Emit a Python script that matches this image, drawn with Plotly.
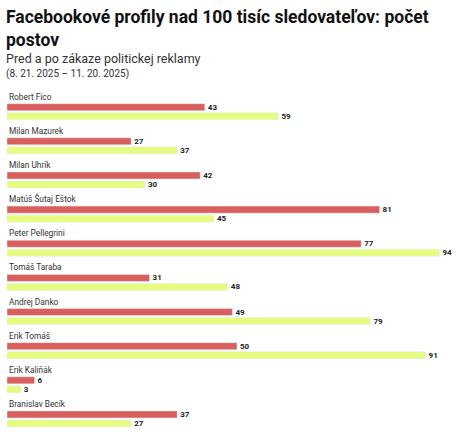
import plotly.graph_objects as go

names = ["Robert Fico", "Milan Mazurek", "Milan Uhrík", "Matúš Šutaj Eštok", "Peter Pellegrini",
         "Tomáš Taraba", "Andrej Danko", "Erik Tomáš", "Erik Kaliňák", "Branislav Becík"]
before = [43, 27, 42, 81, 77, 31, 49, 50, 6, 37]
after = [59, 37, 30, 45, 94, 48, 79, 91, 3, 27]

RED = "#d85f5c"
LIME = "#e6fc80"
FONT = "Roboto, Inter, sans-serif"

fig = go.Figure()
fig.add_trace(go.Bar(y=names, x=before, orientation="h", name="Pred", marker_color=RED,
                     text=before, textposition="outside", cliponaxis=False, constraintext="none",
                     textfont=dict(size=8, color="#222", family=FONT, weight="bold")))
fig.add_trace(go.Bar(y=names, x=after, orientation="h", name="Po", marker_color=LIME,
                     text=after, textposition="outside", cliponaxis=False, constraintext="none",
                     textfont=dict(size=8, color="#222", family=FONT, weight="bold")))

annotations = []
for n in names:
    annotations.append(dict(x=0, y=n, xref="x", yref="y", text=n, showarrow=False,
                            xanchor="left", yanchor="bottom", yshift=8,
                            font=dict(size=8.3, color="#333", family=FONT)))

annotations.append(dict(x=0, y=1.215, xref="paper", yref="paper", xshift=-3,
                        text="<b>Facebookové profily nad 100 tisíc sledovateľov: počet<br>postov</b>",
                        showarrow=False, xanchor="left", yanchor="top", align="left",
                        font=dict(size=17.5, color="#111", family=FONT)))
annotations.append(dict(x=0, y=1.09, xref="paper", yref="paper", xshift=-3,
                        text="Pred a po zákaze politickej reklamy",
                        showarrow=False, xanchor="left", yanchor="top", align="left",
                        font=dict(size=12.5, color="#333", family=FONT)))
annotations.append(dict(x=0, y=1.043, xref="paper", yref="paper", xshift=-3,
                        text="(8. 21. 2025 – 11. 20. 2025)",
                        showarrow=False, xanchor="left", yanchor="top", align="left",
                        font=dict(size=10, color="#333", family=FONT)))

fig.update_layout(
    width=474, height=438,
    margin=dict(l=7, r=7, t=81, b=2),
    barmode="group", bargap=0.473, bargroupgap=0.22,
    plot_bgcolor="white", paper_bgcolor="white",
    showlegend=False,
    xaxis=dict(range=[0, 100], visible=False),
    yaxis=dict(range=[9.5, -0.9], visible=False, type="category"),
    annotations=annotations,
)
fig.write_html("out.html", config={"displayModeBar": False},
               post_script="document.body.style.margin='0';document.body.style.overflow='hidden';")
